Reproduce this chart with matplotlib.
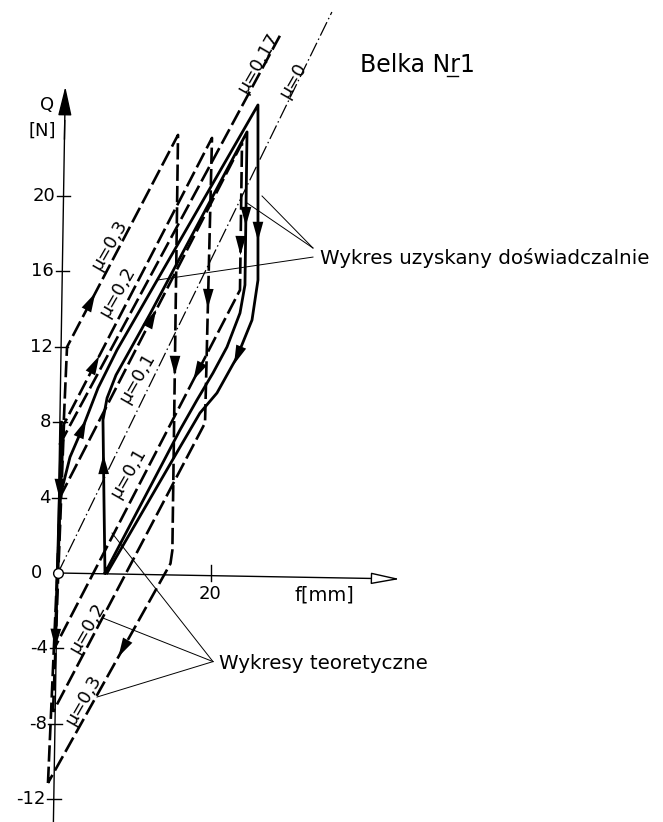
import numpy as np
import matplotlib
matplotlib.use("Agg")
import matplotlib.pyplot as plt

# pixel scale of the drawing (px per mm, px per N)
SX, SY = 7.65, 18.85

# theoretical loops, f [mm] / Q [N]
mu03_f = [-1.31, 1.18, 15.69, 14.95, 14.70, -1.31]
mu03_q = [-11.14, 11.99, 23.24, 1.20, 0.50, -11.14]
mu02_f = [-0.65, 0.78, 20.13, 19.22, -0.65]
mu02_q = [-7.37, 7.90, 23.08, 7.96, -7.37]
mu01_f = [-0.39, 0.26, 24.05, 23.79, -0.39]
mu01_q = [-3.93, 4.03, 22.81, 15.01, -3.93]
mu017_f = [0.20, 29.0]
mu017_q = [6.80, 28.5]
mu0_f = [0.0, 35.8]
mu0_q = [0.0, 29.76]
axis_run_f = [0.45, -0.35]
axis_run_q = [8.0, -3.9]

# measured curves (solid)
expA_f = [0.0, 0.26, 1.57, 3.27, 5.23, 7.71, 26.14, 26.14, 25.36, 23.40, 20.78, 18.56, 15.95, 6.41]
expA_q = [0.0, 4.03, 6.15, 7.75, 9.81, 11.83, 24.83, 15.54, 13.42, 11.46, 9.55, 8.49, 6.68, 0.0]
expB_f = [6.14, 6.01, 5.88, 6.41, 7.58, 9.41, 12.03, 24.71, 24.44, 23.79, 22.09, 20.26, 18.17, 15.95, 6.14]
expB_q = [0.0, 3.87, 8.12, 9.28, 10.50, 11.83, 13.74, 23.40, 15.28, 13.79, 11.99, 10.61, 9.18, 7.59, 0.0]

# arrows: (curve, segment, Q where the arrow sits)
arrows = [("mu03", 1, 14.48), ("mu03", 2, 10.93), ("mu03", 4, -4.08),
          ("mu02", 1, 11.14), ("mu02", 2, 14.48),
          ("mu01", 1, 13.58), ("mu01", 2, 17.29), ("mu01", 3, 10.61),
          ("axis", 0, 4.4), ("axis", 0, -3.55),
          ("expA", 2, 7.75), ("expA", 6, 18.04), ("expA", 8, 11.46),
          ("expB", 1, 5.84), ("expB", 7, 18.83)]

y_ticks = [-12, -8, -4, 4, 8, 12, 16, 20]
y_tick_labels = ["-12", "-8", "-4", "4", "8", "12", "16", "20"]

curves = {"mu03": (mu03_f, mu03_q), "mu02": (mu02_f, mu02_q), "mu01": (mu01_f, mu01_q),
          "axis": (axis_run_f, axis_run_q), "expA": (expA_f, expA_q), "expB": (expB_f, expB_q)}


def q_axis_f(q):
    # the Q axis of the scan leans a little
    return -0.6 + (q + 13.2) * (1.55 / 38.9)


def arrow_at(ax, fs, qs, i, q):
    f0, f1 = fs[i], fs[i + 1]
    q0, q1 = qs[i], qs[i + 1]
    t = (q - q0) / (q1 - q0)
    f = f0 + t * (f1 - f0)
    dx, dy = (f1 - f0) * SX, (q1 - q0) * SY
    n = np.hypot(dx, dy)
    dx, dy = dx / n, dy / n
    L = 8.0
    ax.annotate("", xy=(f + dx * L / SX, q + dy * L / SY), xytext=(f - dx * L / SX, q - dy * L / SY),
                arrowprops=dict(arrowstyle="-|>,head_length=1.15,head_width=0.32", lw=0, color="k",
                                shrinkA=0, shrinkB=0, mutation_scale=12))


fig = plt.figure(figsize=(6.63, 8.22), dpi=100)
ax = fig.add_axes([0, 0, 1, 1])
ax.set_xlim(-58 / SX, 605 / SX)
ax.set_ylim(-249 / SY, 573 / SY)
ax.axis("off")

dash = dict(color="k", lw=1.9, dashes=[6.2, 1.9], solid_capstyle="butt")
# theoretical lines
for f, q in [(mu03_f, mu03_q), (mu02_f, mu02_q), (mu01_f, mu01_q), (mu017_f, mu017_q)]:
    ax.plot(f, q, **dash)
ax.plot(mu0_f, mu0_q, color="k", lw=0.9, dashes=[12, 2.6, 1.2, 2.6])
ax.plot(axis_run_f, axis_run_q, color="k", lw=2.0)

# measured
ax.plot(expA_f, expA_q, color="k", lw=2.0)
ax.plot(expB_f, expB_q, color="k", lw=2.0)

for name, i, q in arrows:
    fs, qs = curves[name]
    arrow_at(ax, fs, qs, i, q)

# axes of the drawing
ax.plot([q_axis_f(-13.2), q_axis_f(24.0)], [-13.2, 24.0], color="k", lw=1.0)
ax.annotate("", xy=(q_axis_f(25.8), 25.8), xytext=(q_axis_f(23.0), 23.0),
            arrowprops=dict(arrowstyle="-|>,head_length=1.5,head_width=0.35", lw=1.0, color="k",
                            shrinkA=0, shrinkB=0, mutation_scale=12))
ax.plot([0, 42.5], [0, -0.3], color="k", lw=1.0)
ax.annotate("", xy=(44.7, -0.32), xytext=(41.5, -0.29),
            arrowprops=dict(arrowstyle="-|>,head_length=1.5,head_width=0.3", lw=1.0, ec="k", fc="white",
                            shrinkA=0, shrinkB=0, mutation_scale=12))
ax.plot([0], [0], "o", ms=7, mfc="white", mec="k", mew=1.0, zorder=5)

for t, lab in zip(y_ticks, y_tick_labels):
    x0 = q_axis_f(t)
    ax.plot([x0 - 0.85, x0 + 0.9], [t, t], color="k", lw=1.0)
    ax.text(x0 - 1.1, t, lab, ha="right", va="center", fontsize=13)
ax.text(-2.1, 0.0, "0", ha="right", va="center", fontsize=13)
ax.plot([20, 20], [0.45, -0.4], color="k", lw=1.0)
ax.text(19.85, -1.1, "20", ha="center", va="center", fontsize=13)
ax.text(34.8, -1.15, "f[mm]", ha="center", va="center", fontsize=14)
ax.text(-1.4, 24.85, "Q", ha="center", va="center", fontsize=13)
ax.text(-2.1, 23.45, "[N]", ha="center", va="center", fontsize=13)

# mu labels
mu_labels = [("μ=0,3", 6.67, 17.40), ("μ=0,2", 7.71, 14.91), ("μ=0,1", 10.33, 10.34),
             ("μ=0,1", 9.15, 5.31), ("μ=0,2", 3.79, -2.92), ("μ=0,3", 3.27, -6.74),
             ("μ=0,17", 26.14, 27.06), ("μ=0", 30.72, 26.15)]
for s, f, q in mu_labels:
    ax.text(f, q, s, rotation=60, ha="center", va="center", fontsize=13, rotation_mode="anchor")

ax.text(39.5, 26.95, "Belka Nr1", ha="left", va="center", fontsize=17)
ax.plot([50.9, 52.3], [26.35, 26.35], color="k", lw=1.0)

# leader lines and notes
ax.text(34.2, 16.7, "Wykres uzyskany doświadczalnie", ha="left", va="center", fontsize=14.3)
for f, q in [(26.67, 20.0), (24.71, 19.63)]:
    ax.plot([33.33, f], [17.24, q], color="k", lw=0.7)
ax.plot([33.33, 12.94], [16.76, 15.54], color="k", lw=0.7)

ax.text(21.0, -4.8, "Wykresy teoretyczne", ha="left", va="center", fontsize=14.3)
for f, q in [(7.06, 2.12), (5.88, -2.39), (5.10, -6.58)]:
    ax.plot([20.26, f], [-4.7, q], color="k", lw=0.7)

fig.savefig("out.png", dpi=100, facecolor="white")
